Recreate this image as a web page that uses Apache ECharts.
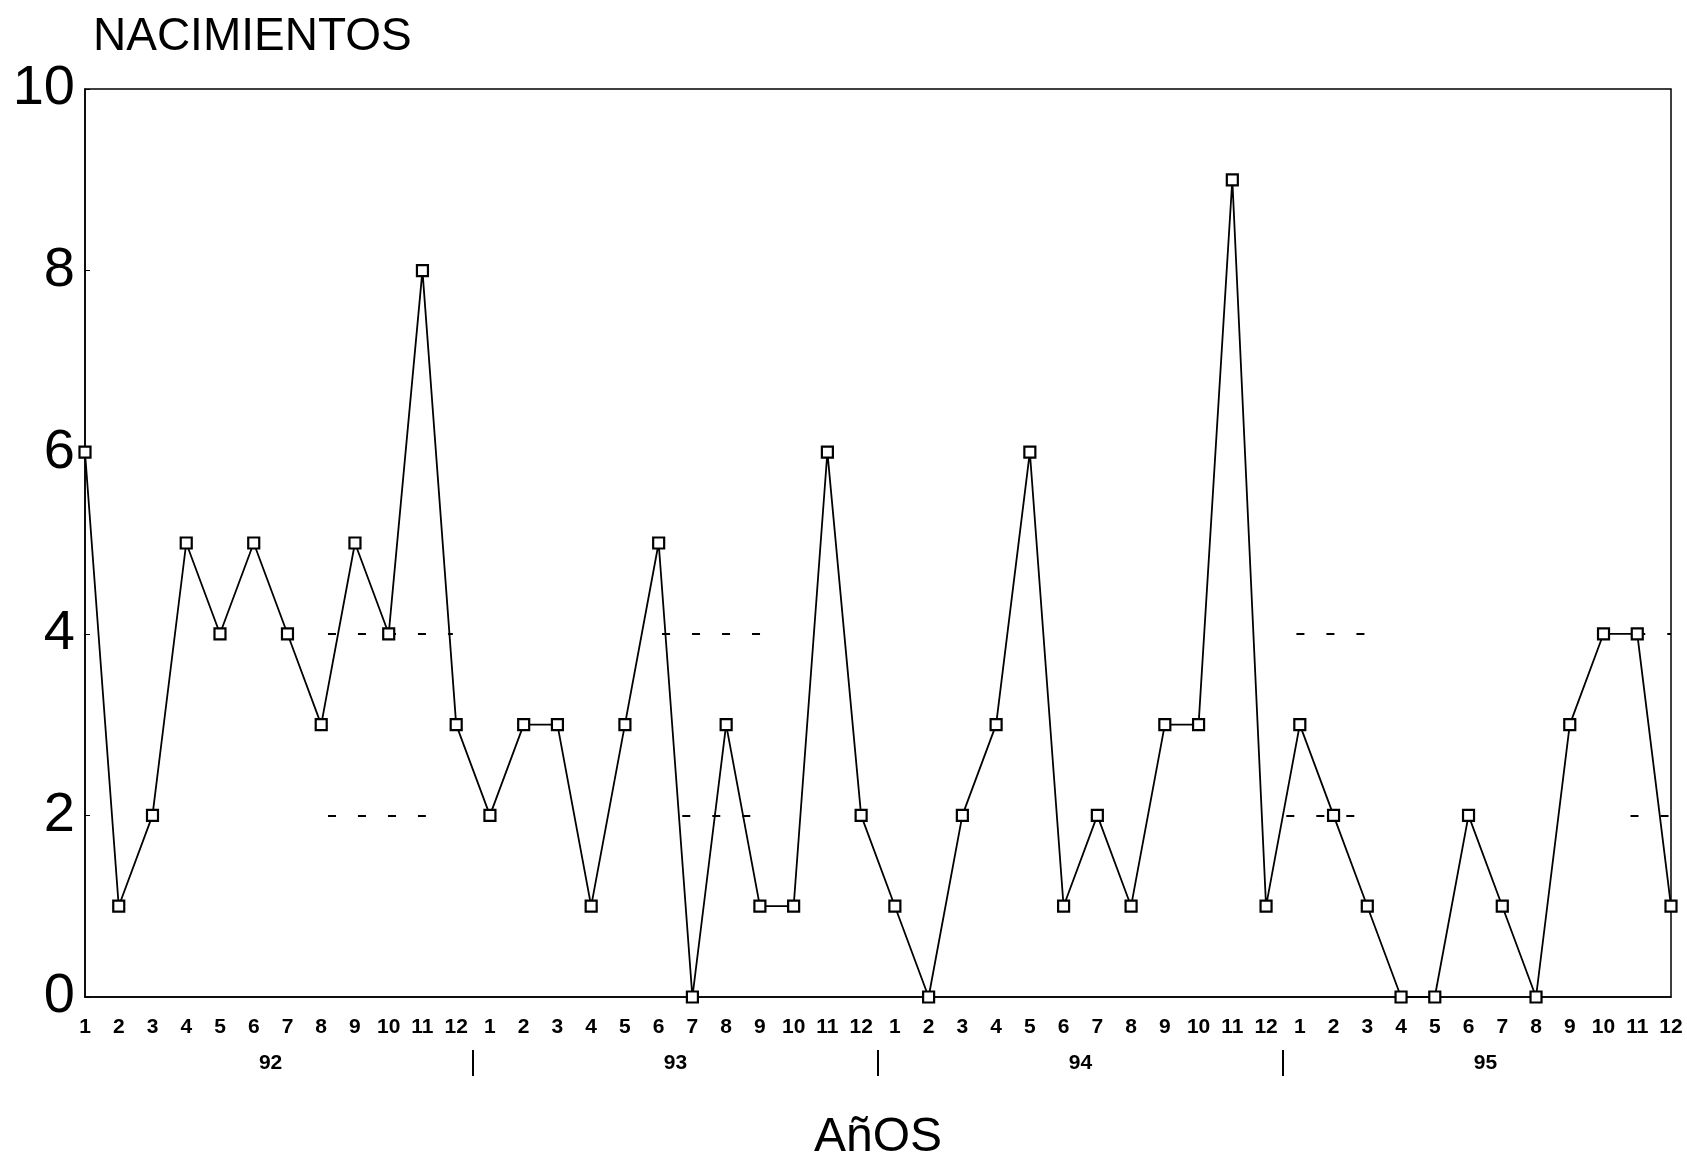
<!DOCTYPE html>
<html>
<head>
<meta charset="utf-8">
<script src="https://cdn.jsdelivr.net/npm/echarts@6/dist/echarts.min.js"></script>
<style>
  html, body { margin: 0; padding: 0; background: #fff; }
  #chart { width: 1687px; height: 1154px; }
</style>
</head>
<body>
<div id="chart"></div>
<script>
// ---- data ----
const monthLabels = ['1','2','3','4','5','6','7','8','9','10','11','12'];
const yearLabels = ['92', '93', '94', '95'];
const births92 = [6, 1, 2, 5, 4, 5, 4, 3, 5, 4, 8, 3];
const births93 = [2, 3, 3, 1, 3, 5, 0, 3, 1, 1, 6, 2];
const births94 = [1, 0, 2, 3, 6, 1, 2, 1, 3, 3, 9, 1];
const births95 = [3, 2, 1, 0, 0, 2, 1, 0, 3, 4, 4, 1];
const yTicks = [0, 2, 4, 6, 8, 10];
// faint dashed guide fragments visible on the scan: [fromMonthIndex, toMonthIndex, value]
const guideFragments = [
  [7.2, 10.9, 4], [17.1, 20.1, 4], [35.9, 38, 4], [46, 47, 4],
  [7.2, 10.1, 2], [17.7, 20.1, 2], [35.6, 38, 2], [45.8, 47, 2]
];

const allBirths = births92.concat(births93, births94, births95);
const seriesData = allBirths.map((v, i) => [i, v]);
const nMonths = allBirths.length;
const yearCenters = yearLabels.map((_, k) => k * 12 + 5.5);
const yearBounds = yearLabels.slice(1).map((_, k) => (k + 1) * 12 - 0.5);

const FONT = '"Liberation Sans", Arial, Helvetica, sans-serif';

const chart = echarts.init(document.getElementById('chart'), null, { renderer: 'canvas' });
chart.setOption({
  animation: false,
  backgroundColor: '#fff',
  title: {
    text: 'NACIMIENTOS',
    left: 88, top: 9,
    textStyle: { fontFamily: FONT, fontSize: 46, fontWeight: 'normal', color: '#000' }
  },
  grid: {
    left: 85, right: 16, top: 89, bottom: 157,
    outerBoundsMode: 'none',
    containLabel: false,
    show: true, borderColor: '#000', borderWidth: 1.5, backgroundColor: 'transparent'
  },
  xAxis: [
    {
      type: 'value', min: 0, max: nMonths - 1, interval: 1,
      position: 'bottom',
      name: 'AñOS', nameLocation: 'middle', nameGap: 117,
      nameTextStyle: { fontFamily: FONT, fontSize: 48, color: '#000' },
      axisLine: { show: true, lineStyle: { color: '#000', width: 1.5 } },
      axisTick: { show: false },
      splitLine: { show: false },
      axisLabel: {
        margin: 20, fontFamily: FONT, fontSize: 21, fontWeight: 'bold', color: '#000',
        formatter: v => monthLabels[v % 12]
      }
    },
    {
      type: 'value', min: 0, max: nMonths - 1,
      position: 'bottom', offset: 53,
      axisLine: { show: false },
      splitLine: { show: false },
      axisTick: {
        show: true, customValues: yearBounds, length: 26, inside: false,
        lineStyle: { color: '#000', width: 2 }
      },
      axisLabel: {
        show: true, customValues: yearCenters, margin: 3,
        fontFamily: FONT, fontSize: 21, fontWeight: 'bold', color: '#000',
        formatter: v => yearLabels[Math.round((v - 5.5) / 12)]
      }
    }
  ],
  yAxis: {
    type: 'value', min: 0, max: 10, interval: 2,
    axisLine: { show: true, lineStyle: { color: '#000', width: 1.5 } },
    axisTick: { show: true, inside: true, length: 5, lineStyle: { color: '#000' } },
    splitLine: { show: false },
    axisLabel: {
      margin: 10, fontFamily: FONT, fontSize: 56, color: '#000',
      formatter: v => (yTicks.indexOf(v) >= 0 ? String(v) : '')
    }
  },
  series: [
    {
      type: 'line',
      xAxisIndex: 0,
      data: seriesData,
      symbol: 'rect',
      symbolSize: 11,
      showAllSymbol: true,
      lineStyle: { color: '#000', width: 1.8 },
      itemStyle: { color: '#fff', borderColor: '#000', borderWidth: 2.2 },
      z: 5,
      markLine: {
        silent: true,
        symbol: ['none', 'none'],
        label: { show: false },
        lineStyle: { color: '#000', width: 2, type: [8, 22] },
        data: guideFragments.map(f => [
          { coord: [f[0], f[2]] },
          { coord: [f[1], f[2]] }
        ])
      }
    }
  ]
});
</script>
</body>
</html>
